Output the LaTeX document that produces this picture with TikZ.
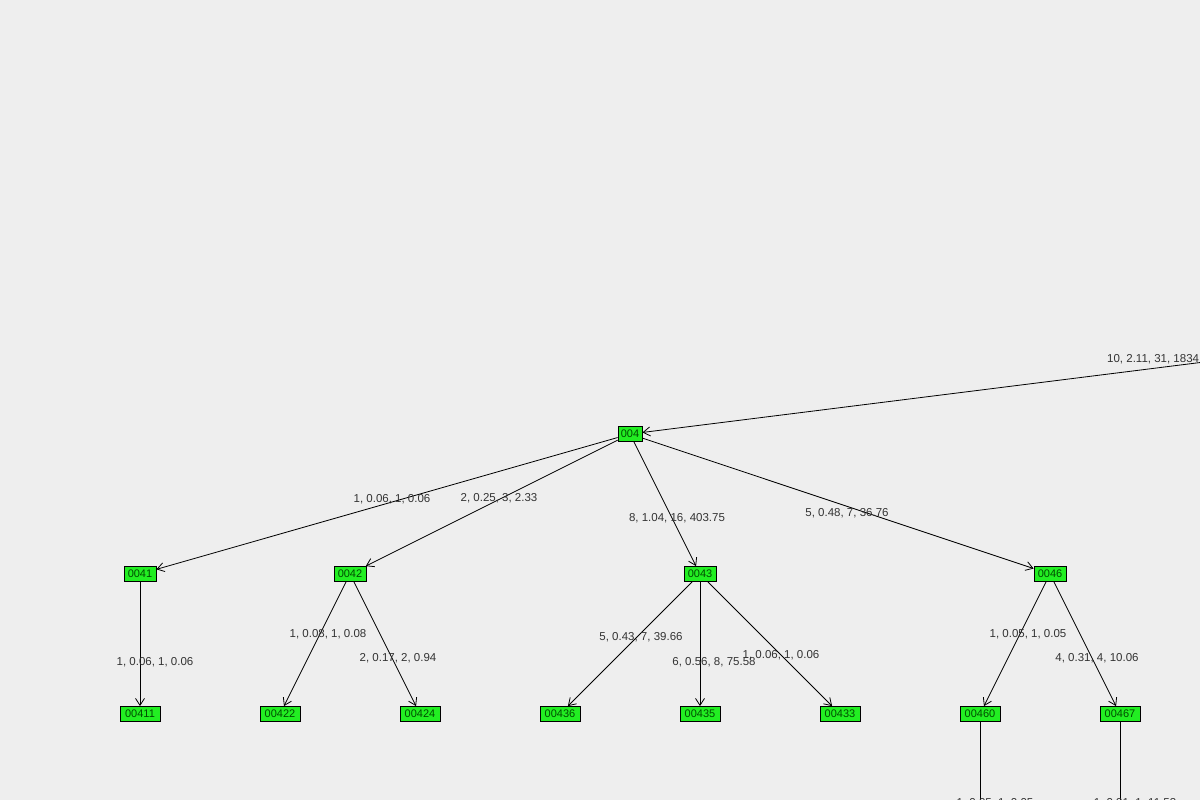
\documentclass[tikz,border=0pt]{standalone}
\usepackage{fontspec}
\setmainfont{Liberation Sans}
\usetikzlibrary{arrows.meta}
\definecolor{bg}{HTML}{EEEEEE}
\definecolor{ng}{HTML}{22EE22}
\definecolor{tx}{HTML}{333333}
\begin{document}
\begin{tikzpicture}[x=1pt,y=-1pt,
  nd/.style={draw=black,line width=0.8pt,fill=ng,inner sep=0pt,minimum height=15pt,font=\fontsize{11}{12}\selectfont,text=black!70!green},
  lb/.style={font=\fontsize{11.5}{12}\selectfont,text=tx,inner sep=0pt},
  ed/.style={draw=black,line width=0.8pt,->,>={Straight Barb[length=7pt,width=9pt]}}]
\useasboundingbox (0,0) rectangle (1200,800);
\clip (0,0) rectangle (1200,800);
\fill[bg] (0,0) rectangle (1200,800);
\node[nd,minimum width=24pt] (n4) at (630,434) {004};
\foreach \n/\x in {0041/140,0042/350,0043/700,0046/1050}
  \node[nd,minimum width=32pt] (n\n) at (\x,574) {\n};
\foreach \n/\x in {00411/140,00422/280,00424/420,00436/560,00435/700,00433/840,00460/980,00467/1120}
  \node[nd,minimum width=40pt] (n\n) at (\x,714) {\n};
\coordinate (top) at (1300,350);
\coordinate (b1) at (980,830);
\coordinate (b2) at (1120,830);
\draw[ed] (top) -- (n4);
\draw[ed] (n4) -- (n0041);
\draw[ed] (n4) -- (n0042);
\draw[ed] (n4) -- (n0043);
\draw[ed] (n4) -- (n0046);
\draw[ed] (n0041) -- (n00411);
\draw[ed] (n0042) -- (n00422);
\draw[ed] (n0042) -- (n00424);
\draw[ed] (n0043) -- (n00436);
\draw[ed] (n0043) -- (n00435);
\draw[ed] (n0043) -- (n00433);
\draw[ed] (n0046) -- (n00460);
\draw[ed] (n0046) -- (n00467);
\draw[line width=0.8pt] (n00460) -- (b1);
\draw[line width=0.8pt] (n00467) -- (b2);
\node[lb,anchor=west] at (1107,359) {10, 2.11, 31, 1834.52};
\node[lb] at (392,499) {1, 0.06, 1, 0.06};
\node[lb] at (499,498) {2, 0.25, 3, 2.33};
\node[lb] at (677,518) {8, 1.04, 16, 403.75};
\node[lb] at (847,513) {5, 0.48, 7, 36.76};
\node[lb] at (155,662) {1, 0.06, 1, 0.06};
\node[lb] at (328,634) {1, 0.08, 1, 0.08};
\node[lb] at (398,658) {2, 0.17, 2, 0.94};
\node[lb] at (641,637) {5, 0.43, 7, 39.66};
\node[lb] at (714,662) {6, 0.56, 8, 75.58};
\node[lb] at (781,655) {1, 0.06, 1, 0.06};
\node[lb] at (1028,634) {1, 0.05, 1, 0.05};
\node[lb] at (1097,658) {4, 0.31, 4, 10.06};
\node[lb] at (995,803) {1, 0.05, 1, 0.05};
\node[lb] at (1135,803) {1, 0.31, 1, 11.53};
\end{tikzpicture}
\end{document}
